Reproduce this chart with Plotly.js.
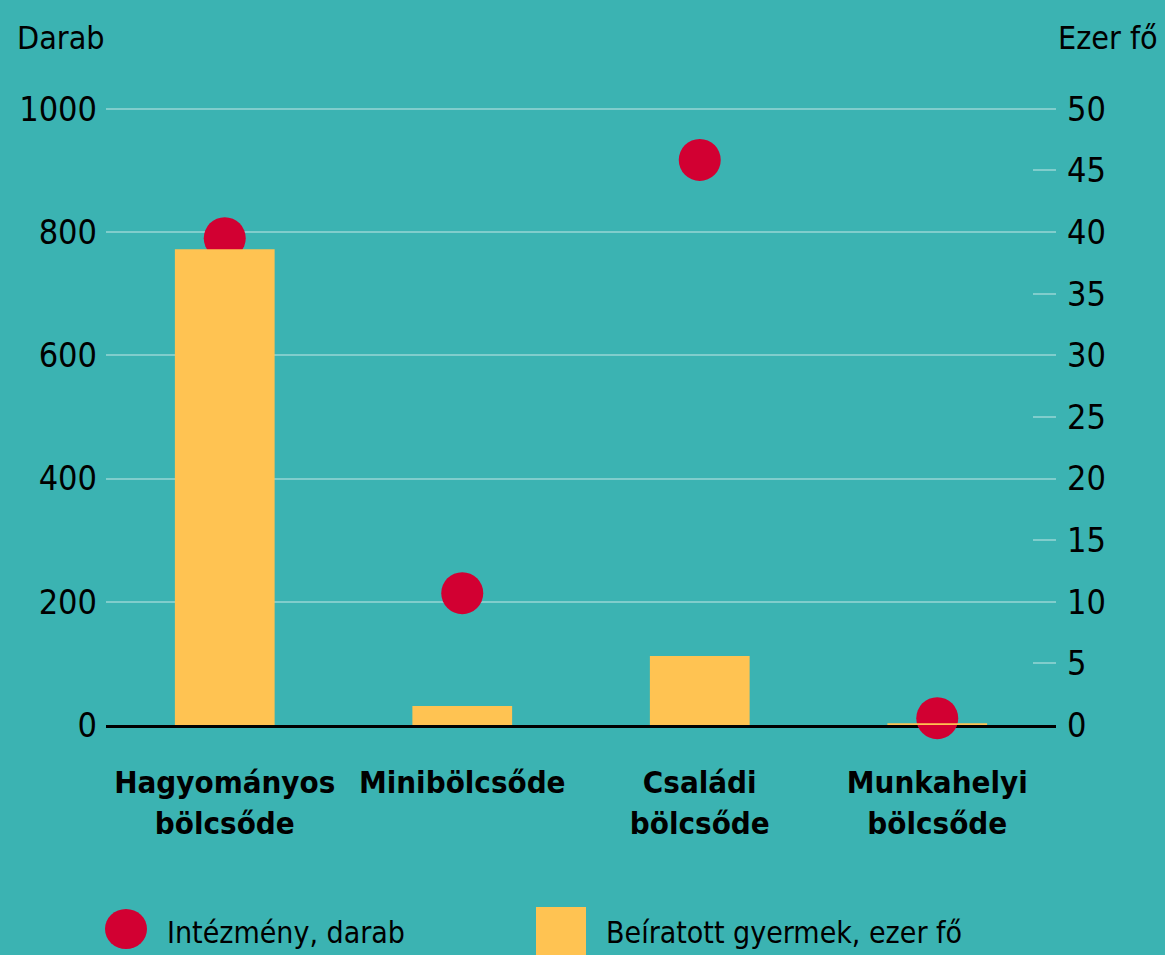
<!DOCTYPE html>
<html><head><meta charset="utf-8">
<script src="https://cdn.plot.ly/plotly-3.0.1.min.js"></script>
<style>html,body{margin:0;padding:0;background:#3bb3b2;}</style>
</head><body><div id="chart" style="width:1165px;height:955px;"></div>
<script>
// Data
const categories = ["Hagyományos<br>bölcsőde", "Minibölcsőde", "Családi<br>bölcsőde", "Munkahelyi<br>bölcsőde"];
const intezmenyDarab = [790, 214, 917, 11];
const gyermekEzerFo = [38.6, 1.55, 5.6, 0.15];
const leftTickVals = [0, 200, 400, 600, 800, 1000];
const rightTickVals = [0, 5, 10, 15, 20, 25, 30, 35, 40, 45, 50];
const seriesNames = ["Intézmény, darab", "Beíratott gyermek, ezer fő"];
const axisTitles = ["Darab", "Ezer fő"];

const W = 1165, H = 955;
const M = {l: 106, r: 109, t: 78, b: 230};
const PW = W - M.l - M.r, PH = H - M.t - M.b;
const px = x => (x - M.l) / PW;
const py = y => (H - M.b - y) / PH;

const FONT = "'DejaVu Sans Condensed', 'Liberation Sans Narrow', 'Liberation Sans', Arial, sans-serif";
const BG = '#3bb3b2', GRID = '#80cdcc', RED = '#d20032', YEL = '#ffc352';

const traces = [
  {
    type: 'bar', x: categories, y: gyermekEzerFo, yaxis: 'y2', name: seriesNames[1],
    marker: {color: YEL}, width: 0.42, hoverinfo: 'skip'
  },
  {
    type: 'scatter', mode: 'markers', x: categories, y: intezmenyDarab, yaxis: 'y', name: seriesNames[0],
    marker: {color: RED, size: 42, line: {width: 0}}, cliponaxis: false, hoverinfo: 'skip'
  }
];

const layout = {
  width: W, height: H,
  margin: M,
  paper_bgcolor: BG, plot_bgcolor: BG,
  showlegend: false,
  font: {family: FONT, color: '#000', size: 34},
  xaxis: {
    type: 'category', showgrid: false, zeroline: false,
    showline: true, linecolor: '#000', linewidth: 3, layer: 'below traces',
    ticks: '', tickangle: 0, ticklabelstandoff: 28,
    tickfont: {family: FONT, size: 31, color: '#000', weight: 'bold'}
  },
  yaxis: {
    range: [0, 1050], tickvals: leftTickVals, ticktext: leftTickVals.map(String),
    showgrid: true, gridcolor: GRID, gridwidth: 2, zeroline: false, showline: false,
    ticks: '', ticklabelstandoff: 8, tickfont: {family: FONT, size: 34, color: '#000'}
  },
  yaxis2: {
    overlaying: 'y', side: 'right', range: [0, 52.5],
    tickvals: rightTickVals, ticktext: rightTickVals.map(String),
    showgrid: false, zeroline: false, showline: false,
    ticks: 'inside', ticklen: 23, tickwidth: 2, tickcolor: GRID,
    ticklabelstandoff: 10, tickfont: {family: FONT, size: 34, color: '#000'}
  },
  annotations: [
    {xref: 'paper', yref: 'paper', x: px(15), y: py(38), xanchor: 'left', yanchor: 'middle',
     text: axisTitles[0], showarrow: false, font: {family: FONT, size: 32, color: '#000'}},
    {xref: 'paper', yref: 'paper', x: px(1160), y: py(38), xanchor: 'right', yanchor: 'middle',
     text: axisTitles[1], showarrow: false, font: {family: FONT, size: 32, color: '#000'}},
    {xref: 'paper', yref: 'paper', x: px(165), y: py(932), xanchor: 'left', yanchor: 'middle',
     text: seriesNames[0], showarrow: false, font: {family: FONT, size: 30, color: '#000'}},
    {xref: 'paper', yref: 'paper', x: px(604), y: py(932), xanchor: 'left', yanchor: 'middle',
     text: seriesNames[1], showarrow: false, font: {family: FONT, size: 30, color: '#000'}}
  ],
  shapes: [
    {type: 'circle', xref: 'paper', yref: 'paper', x0: px(105), x1: px(147), y0: py(949), y1: py(909),
     fillcolor: RED, line: {width: 0}},
    {type: 'rect', xref: 'paper', yref: 'paper', x0: px(536), x1: px(586), y0: py(962), y1: py(907),
     fillcolor: YEL, line: {width: 0}}
  ]
};

Plotly.newPlot('chart', traces, layout, {staticPlot: true, displayModeBar: false});
</script>
</body></html>
